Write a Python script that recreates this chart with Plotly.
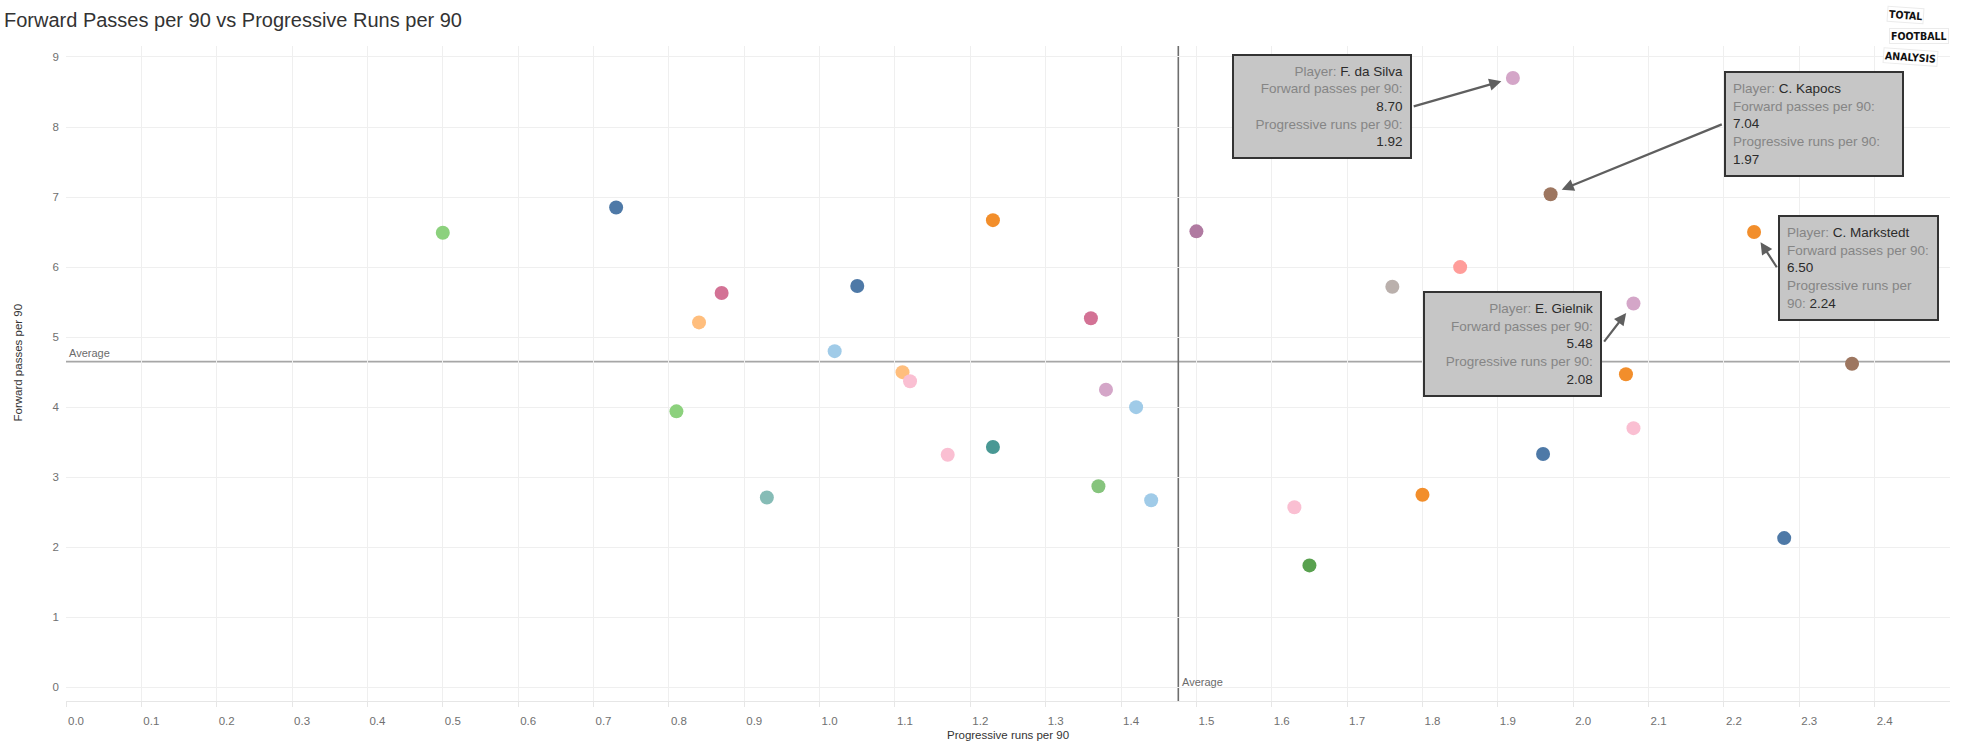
import plotly.graph_objects as go

# ---------------- data ----------------
prog_runs = [0.50, 0.73, 0.87, 0.84, 1.05, 1.02, 0.81, 0.93, 1.23, 1.11,
             1.12, 1.17, 1.23, 1.36, 1.38, 1.42, 1.37, 1.44, 1.50, 1.76,
             1.85, 1.63, 1.65, 1.80, 2.07, 2.08, 1.96, 2.37, 2.28,
             1.92, 1.97, 2.24, 2.08]
fwd_passes = [6.49, 6.85, 5.63, 5.21, 5.73, 4.80, 3.94, 2.71, 6.67, 4.50,
              4.37, 3.32, 3.43, 5.27, 4.25, 4.00, 2.87, 2.67, 6.51, 5.72,
              6.00, 2.57, 1.74, 2.75, 4.47, 3.70, 3.33, 4.62, 2.13,
              8.70, 7.04, 6.50, 5.48]
colors = ["#8CD17D", "#4E79A7", "#D37295", "#FFBE7D", "#4E79A7", "#A0CBE8", "#8CD17D", "#86BCB6", "#F28E2B", "#FFBE7D",
          "#FABFD2", "#FABFD2", "#499894", "#D37295", "#D4A6C8", "#A0CBE8", "#86C47D", "#A0CBE8", "#B07AA1", "#BAB0AC",
          "#FF9D9A", "#FABFD2", "#59A14F", "#F28E2B", "#F28E2B", "#FABFD2", "#4E79A7", "#9D7660", "#4E79A7",
          "#D4A6C8", "#9D7660", "#F28E2B", "#D4A6C8"]

avg_prog_runs = 1.476
avg_fwd_passes = 4.65

callout_players = ["F. da Silva", "C. Kapocs", "C. Markstedt", "E. Gielnik"]
callout_fwd = [8.70, 7.04, 6.50, 5.48]
callout_prog = [1.92, 1.97, 2.24, 2.08]

x_ticks = [round(i * 0.1, 1) for i in range(25)]
x_tick_labels = [f"{v:.1f}" for v in x_ticks]
y_ticks = list(range(10))

# ---------------- figure ----------------
W, H = 1963, 748
ML, MR, MT, MB = 66, 13, 46, 47
PW, PH = W - ML - MR, H - MT - MB

TICK_FONT = dict(family="Liberation Sans, Arial, sans-serif", size=11.5, color="#707070")
BOX_FONT = dict(family="Liberation Sans, Arial, sans-serif", size=13.5, color="#858585")

fig = go.Figure()

fig.add_trace(go.Scatter(
    x=prog_runs, y=fwd_passes, mode="markers",
    marker=dict(size=14, color=colors, line=dict(width=0)),
    showlegend=False, hoverinfo="skip",
))

# average lines
fig.add_shape(type="line", xref="paper", yref="y", x0=0, x1=1,
              y0=avg_fwd_passes, y1=avg_fwd_passes,
              line=dict(color="#A6A6A6", width=1.6), layer="below")
fig.add_shape(type="line", xref="x", yref="paper", x0=avg_prog_runs, x1=avg_prog_runs,
              y0=0, y1=1, line=dict(color="#6E6E6E", width=1.6), layer="below")

annotations = []
annotations.append(dict(xref="paper", yref="y", x=0, y=avg_fwd_passes, xanchor="left",
                        yanchor="middle", xshift=1, yshift=9, text="Average",
                        showarrow=False, font=dict(family="Liberation Sans, Arial", size=11, color="#6b6b6b")))
annotations.append(dict(xref="x", yref="paper", x=avg_prog_runs, y=(PH - (681.7 - MT)) / PH,
                        xanchor="left", yanchor="middle", xshift=2, text="Average",
                        showarrow=False, font=dict(family="Liberation Sans, Arial", size=11, color="#6b6b6b")))


def lab(t):
    return f'<span style="color:#858585">{t}</span>'


def val(t):
    return f'<span style="color:#2b2b2b">{t}</span>'


texts = [
    lab("Player: ") + val("F. da Silva") + "<br>" + lab("Forward passes per 90:") + "<br>" + val("8.70")
    + "<br>" + lab("Progressive runs per 90:") + "<br>" + val("1.92"),
    lab("Player: ") + val("C. Kapocs") + "<br>" + lab("Forward passes per 90:") + "<br>" + val("7.04")
    + "<br>" + lab("Progressive runs per 90:") + "<br>" + val("1.97"),
    lab("Player: ") + val("C. Markstedt") + "<br>" + lab("Forward passes per 90:") + "<br>" + val("6.50")
    + "<br>" + lab("Progressive runs per") + "<br>" + lab("90: ") + val("2.24"),
    lab("Player: ") + val("E. Gielnik") + "<br>" + lab("Forward passes per 90:") + "<br>" + val("5.48")
    + "<br>" + lab("Progressive runs per 90:") + "<br>" + val("2.08"),
]
aligns = ["right", "left", "left", "right"]
# box centre offsets (px) from the point, box sizes (px)
box_off = [(-190.8, 28.8), (263.7, -70.7), (104.6, 35.6), (-121.0, 40.0)]
box_size = [(180, 105), (180, 106), (161, 106), (179, 106)]
# arrow tail offsets (px) from the point
arrow_tail = [(-100.7, 28.8), (172.7, -70.5), (23.7, 36.7), (-30.5, 39.6)]

PAD, BW = 7, 2
for i in range(4):
    bx, by = box_off[i]
    w, h = box_size[i]
    annotations.append(dict(
        x=callout_prog[i], y=callout_fwd[i], xref="x", yref="y",
        text=texts[i], align=aligns[i], font=BOX_FONT,
        showarrow=True, arrowcolor="rgba(0,0,0,0)", arrowwidth=0.1,
        ax=bx, ay=by, axref="pixel", ayref="pixel",
        bgcolor="#C6C6C6", bordercolor="#333333", borderwidth=BW, borderpad=PAD,
        width=w - 2 * PAD - 2 * BW, height=h - 2 * PAD - 2 * BW,
        xanchor="center", yanchor="middle",
    ))
    tx, ty = arrow_tail[i]
    annotations.append(dict(
        x=callout_prog[i], y=callout_fwd[i], xref="x", yref="y",
        text="", showarrow=True, arrowhead=2, arrowsize=1.1, arrowwidth=2.2,
        arrowcolor="#5f5f5f", ax=tx, ay=ty, standoff=12,
    ))

# axis titles
annotations.append(dict(xref="paper", yref="paper", x=0.5, y=(-(735 - (H - MB))) / PH,
                        text="Progressive runs per 90", showarrow=False,
                        xanchor="center", yanchor="middle",
                        font=dict(family="Liberation Sans, Arial", size=11.5, color="#333333")))
annotations.append(dict(xref="paper", yref="paper", x=(17.5 - ML) / PW, y=(H - MB - 363) / PH,
                        text="Forward passes per 90", showarrow=False, textangle=-90,
                        xanchor="center", yanchor="middle",
                        font=dict(family="Liberation Sans, Arial", size=11.5, color="#333333")))

# logo
logo = [("TOTAL", 1905, 15, 4), ("FOOTBALL", 1919, 36, 0), ("ANALYSIS", 1910, 57, 4)]
for t, px, py, ang in logo:
    annotations.append(dict(xref="paper", yref="paper", x=(px - ML) / PW, y=(H - MB - py) / PH,
                            text=f"<b>{t}</b>", showarrow=False, textangle=ang,
                            xanchor="center", yanchor="middle",
                            bordercolor="#EBEBEB", borderwidth=1, borderpad=1, bgcolor="white",
                            font=dict(family="Liberation Sans Narrow, DejaVu Sans Condensed, sans-serif",
                                      size=10.5, color="#111111")))

fig.update_layout(
    width=W, height=H,
    margin=dict(l=ML, r=MR, t=MT, b=MB, pad=0),
    paper_bgcolor="white", plot_bgcolor="white",
    title=dict(text="Forward Passes per 90 vs Progressive Runs per 90",
               x=4 / W, xref="container", xanchor="left",
               y=1 - 20 / H, yref="container", yanchor="middle",
               font=dict(family="Liberation Sans, Arial, sans-serif", size=20, color="#333333")),
    annotations=annotations,
    xaxis=dict(range=[0, 2.5], tickvals=x_ticks, ticktext=x_tick_labels,
               showgrid=True, gridcolor="#EFEFEF", gridwidth=1, zeroline=False,
               showline=True, linecolor="#E6E6E6", linewidth=1,
               ticks="outside", ticklen=5, tickcolor="#E6E6E6",
               ticklabelshift=10, ticklabelstandoff=4, tickfont=TICK_FONT),
    yaxis=dict(range=[-0.196, 9.157], tickvals=y_ticks,
               showgrid=True, gridcolor="#EFEFEF", gridwidth=1, zeroline=False,
               showline=False, ticks="", ticklabelstandoff=6, tickfont=TICK_FONT),
)

fig.write_html("out.html", config={"displayModeBar": False},
               post_script="document.body.style.margin='0';")
